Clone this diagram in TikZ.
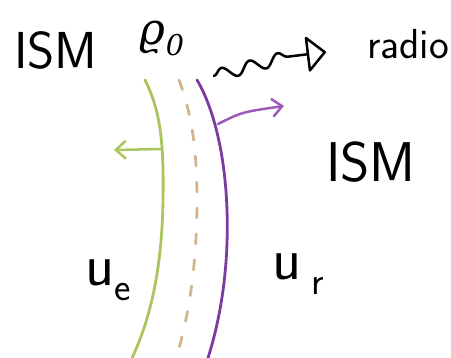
\documentclass[tikz,border=0pt]{standalone}
\usepackage{fontspec}
\newfontfamily\greekfont{DejaVu Serif}
\usetikzlibrary{arrows.meta,decorations.pathmorphing}
\definecolor{shellgreen}{HTML}{A9C65E}
\definecolor{shellpurple}{HTML}{7B3C9E}
\definecolor{arrowpurple}{HTML}{9B5BB8}
\definecolor{dashbeige}{HTML}{D2B48E}
\newcommand{\lowsub}[1]{\raisebox{-0.25em}{\scalebox{0.65}{#1}}}
\begin{document}
\begin{tikzpicture}[x=1pt, y=-1pt,
    shell/.style={line width=2.8pt, line cap=round},
    label/.style={inner sep=0pt, font=\sffamily},
    flow/.style={line width=2.5pt, line cap=round, -{Straight Barb[length=10pt, width=18pt, line width=2.5pt]}}]
    \useasboundingbox (0,0) rectangle (451,358);

    % Texts
    \node[label, font=\sffamily\fontsize{52}{56}\selectfont] (ismleft) at (56,50) {ISM};
    \node[label, font=\greekfont\itshape\fontsize{44}{48}\selectfont] (rho) at (162,38) {ϱ\lowsub{0}};
    \node[label, font=\sffamily\fontsize{42}{46}\selectfont] (radio) at (408,44) {radio};
    \node[label, font=\sffamily\fontsize{56}{60}\selectfont] (ismright) at (371,162) {ISM};
    \node[label, font=\sffamily\fontsize{60}{64}\selectfont] (ue) at (108,280) {u\lowsub{e}};
    \node[label, font=\sffamily\fontsize{60}{64}\selectfont] (ur) at (298,274) {u\,\lowsub{r}};

    % Shells
    \draw[shell, shellgreen] (145,80) .. controls (160,110) and (164,140) .. (163,200)
        .. controls (162,270) and (150,320) .. (132,358);
    \draw[shell, dashbeige, dash pattern=on 10pt off 16pt] (179,80) .. controls (192,115) and (197,150) .. (197,200)
        .. controls (197,260) and (190,310) .. (178,352);
    \draw[shell, shellpurple] (197,80) .. controls (212,105) and (225,150) .. (227,210)
        .. controls (229,270) and (220,320) .. (208,358);

    % Velocities
    \coordinate (greenfoot) at (162,149);
    \coordinate (greentip) at (114,150);
    \coordinate (purplefoot) at (218,124);
    \coordinate (purpletip) at (284,106);
    \draw[flow, shellgreen] (greenfoot) -- (greentip);
    \draw[flow, arrowpurple] (purplefoot) .. controls (242,112) .. (purpletip);

    % Radio emission
    \coordinate (wavestart) at (214,76);
    \coordinate (wavebend) at (298,54);
    \coordinate (waveend) at (326,52);
    \draw[line width=2.5pt, line cap=round, line join=round, decorate,
        decoration={snake, segment length=29pt, amplitude=6pt, post length=30pt},
        -{Triangle[open, round, length=20pt, width=38pt, line width=2.5pt]}] (wavestart) -- (wavebend) -- (waveend);
\end{tikzpicture}
\end{document}
